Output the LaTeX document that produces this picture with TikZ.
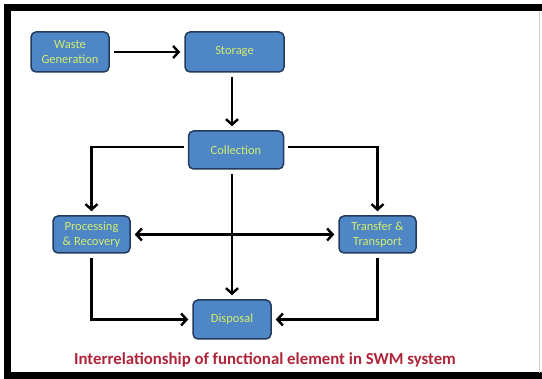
\documentclass[tikz,border=0pt]{standalone}
\usepackage{fontspec}
\setmainfont{Carlito}
\usetikzlibrary{arrows.meta}
\definecolor{boxfill}{HTML}{4F86C6}
\definecolor{boxline}{HTML}{233A5C}
\definecolor{boxtext}{HTML}{D2EE6C}
\definecolor{captred}{HTML}{B0243A}
\tikzset{
  fbox/.style={draw=boxline, line width=1.5pt, fill=boxfill, rounded corners=5pt,
    text=boxtext, font=\fontsize{12.5}{15}\selectfont, align=center, inner sep=0pt},
  barb/.tip={Straight Barb[length=5.5pt,width=12pt,line width=2.4pt]},
  conn/.style={line width=2.6pt, -barb, shorten >=4pt, shorten <=4pt},
  dconn/.style={line width=2.6pt, barb-barb, shorten >=4pt, shorten <=4pt}
}
\begin{document}
\begin{tikzpicture}[x=1pt,y=-1pt]
\useasboundingbox (0,0) rectangle (542,379);
\fill[white] (0,0) rectangle (542,379);
% frame
\draw[line width=7pt] (542,8) -- (7,8) -- (7,376) -- (542,376);
\draw[line width=0.6pt, gray!40] (539,11) -- (539,373);
% nodes
\node[fbox, minimum width=78pt, minimum height=40pt] (wg) at (70,52) {Waste\\Generation};
\node[fbox, minimum width=99pt, minimum height=40pt] (st) at (234.5,52) {Storage};
\node[fbox, minimum width=95pt, minimum height=38pt] (co) at (236,150) {Collection};
\node[fbox, minimum width=77pt, minimum height=37pt] (pr) at (91.5,234.5) {Processing\\\& Recovery};
\node[fbox, minimum width=77pt, minimum height=37pt] (tr) at (377.5,234.5) {Transfer \&\\Transport};
\node[fbox, minimum width=78pt, minimum height=39pt] (di) at (232,319.5) {Disposal};
% connectors
\draw[conn] (wg.east) -- (st.west);
\draw[conn] (st.south -| di.north) -- (co.north -| di.north);
\draw[conn] (co.west |- 0,147) -| (pr.north);
\draw[conn] (co.east |- 0,147) -| (tr.north);
\draw[conn] (co.south -| di.north) -- (di.north);
\draw[dconn] (pr.east) -- (tr.west);
\draw[conn] (pr.south) |- (di.west);
\draw[conn] (tr.south) |- (di.east);
% caption
\node[text=captred, font=\bfseries\fontsize{16.8}{18}\selectfont] (cap) at (265,360) {Interrelationship of functional element in SWM system};
\end{tikzpicture}
\end{document}
